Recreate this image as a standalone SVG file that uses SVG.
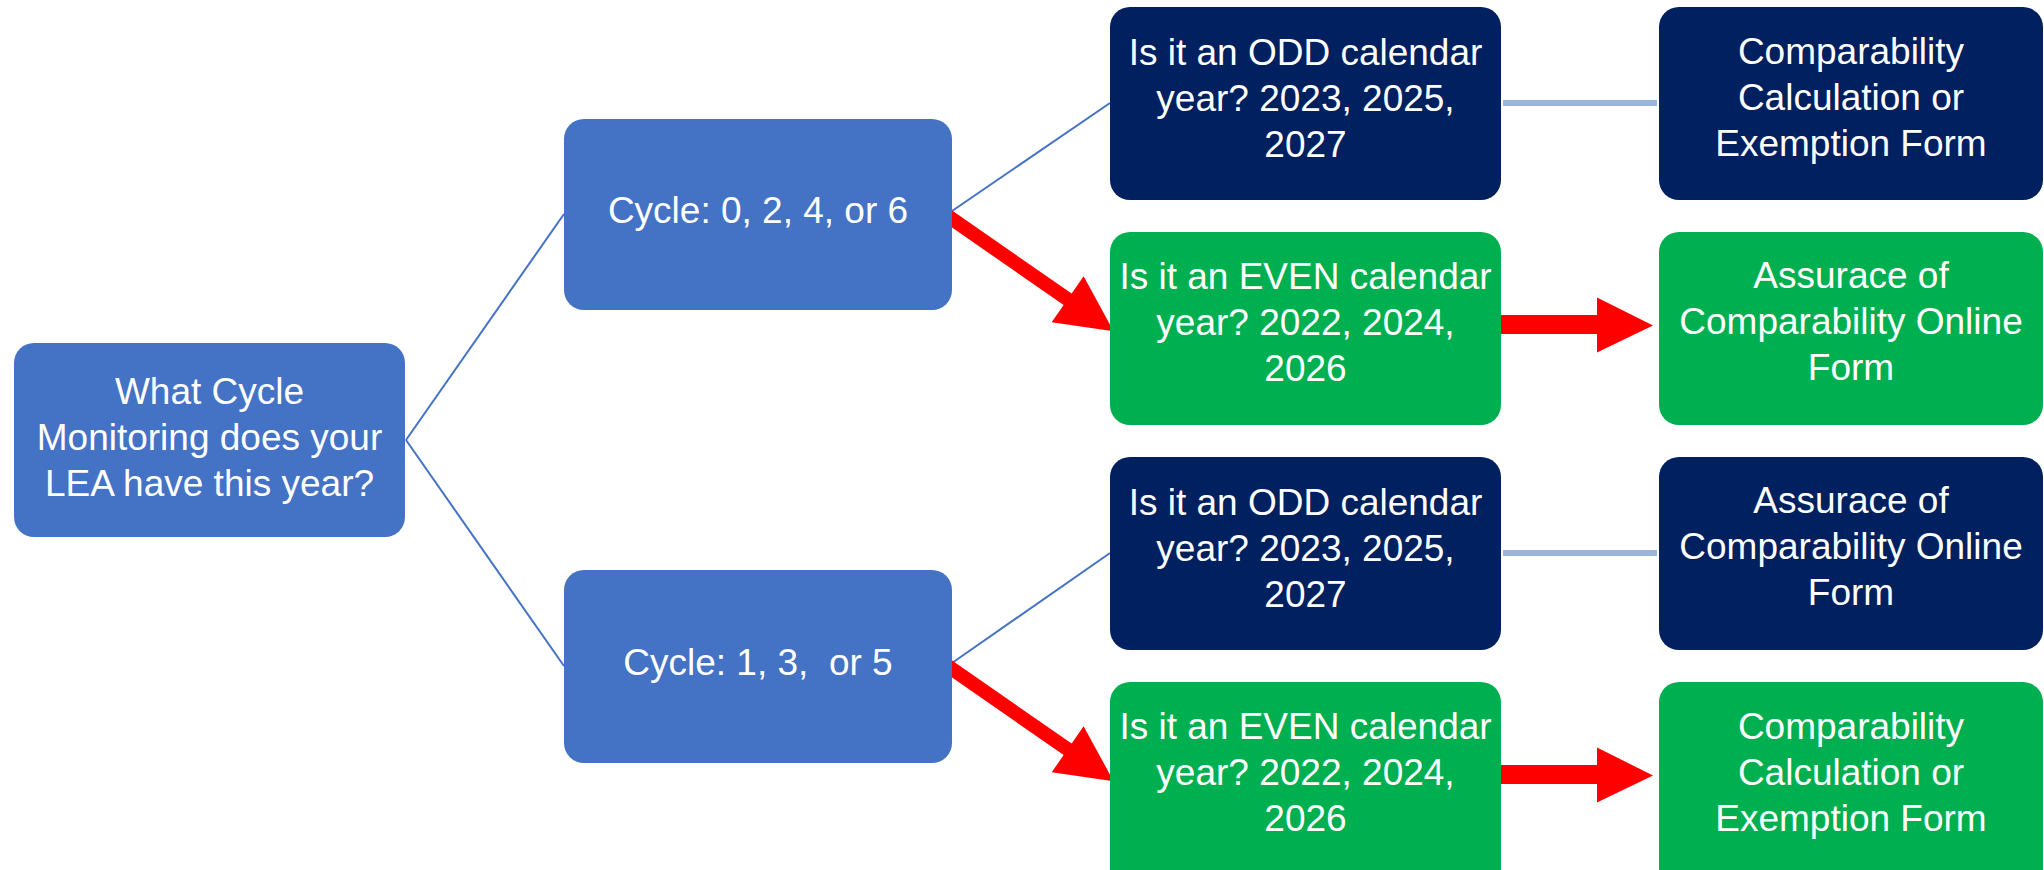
<svg xmlns="http://www.w3.org/2000/svg" xmlns:xlink="http://www.w3.org/1999/xlink" width="2044" height="870" viewBox="0 0 2044 870">
  <style>
    .blue { fill: #4472C4; }
    .navy { fill: #002060; }
    .green { fill: #00B050; }
    .t { font-family: "Liberation Sans", Arial, sans-serif; font-size: 37px; fill: #FFFFFF; text-anchor: middle; white-space: pre; }
    .thin { stroke: #4472C4; stroke-width: 2; fill: none; }
    .light { stroke: #9DB4DC; stroke-width: 6; fill: none; }
    .red { fill: #FF0000; }
  </style>
  <defs>
    <polygon id="diagArrow" points="0,-7 153,-7 153,-28 209,0 153,28 153,7 0,7"/>
    <polygon id="hArrow" points="0,-9.5 105,-9.5 105,-27 161,1 105,28 105,9.5 0,9.5"/>
  </defs>
  <rect width="2044" height="870" fill="#FFFFFF"/>

  <g id="connectors">
    <line class="thin" x1="406" y1="440" x2="564" y2="214"/>
    <line class="thin" x1="406" y1="440" x2="564" y2="666"/>
    <line class="thin" x1="952" y1="211" x2="1110" y2="103"/>
    <line class="thin" x1="952" y1="663" x2="1110" y2="553"/>
    <line class="light" x1="1503" y1="103" x2="1657" y2="103"/>
    <line class="light" x1="1503" y1="553" x2="1657" y2="553"/>
    <use xlink:href="#diagArrow" class="red" transform="translate(942,212) rotate(34.8)"/>
    <use xlink:href="#diagArrow" class="red" transform="translate(942,662) rotate(34.8)"/>
    <use xlink:href="#hArrow" class="red" transform="translate(1492,324.5)"/>
    <use xlink:href="#hArrow" class="red" transform="translate(1492,774.5)"/>
  </g>

  <g id="root">
    <rect class="blue" x="14" y="343" width="391" height="194" rx="20"/>
    <text class="t" x="209.5" y="404">What Cycle</text>
    <text class="t" x="209.5" y="450">Monitoring does your</text>
    <text class="t" x="209.5" y="496">LEA have this year?</text>
  </g>

  <g id="cycle-even">
    <rect class="blue" x="564" y="119" width="388" height="191" rx="20"/>
    <text class="t" x="758" y="223">Cycle: 0, 2, 4, or 6</text>
  </g>

  <g id="cycle-odd">
    <rect class="blue" x="564" y="570" width="388" height="193" rx="20"/>
    <text class="t" x="758" y="675">Cycle: 1, 3,  or 5</text>
  </g>

  <g id="odd-1">
    <rect class="navy" x="1110" y="7" width="391" height="193" rx="20"/>
    <text class="t" x="1305.5" y="65">Is it an ODD calendar</text>
    <text class="t" x="1305.5" y="111">year? 2023, 2025,</text>
    <text class="t" x="1305.5" y="157">2027</text>
  </g>

  <g id="even-1">
    <rect class="green" x="1110" y="232" width="391" height="193" rx="20"/>
    <text class="t" x="1305.5" y="289">Is it an EVEN calendar</text>
    <text class="t" x="1305.5" y="335">year? 2022, 2024,</text>
    <text class="t" x="1305.5" y="381">2026</text>
  </g>

  <g id="odd-2">
    <rect class="navy" x="1110" y="457" width="391" height="193" rx="20"/>
    <text class="t" x="1305.5" y="515">Is it an ODD calendar</text>
    <text class="t" x="1305.5" y="561">year? 2023, 2025,</text>
    <text class="t" x="1305.5" y="607">2027</text>
  </g>

  <g id="even-2">
    <rect class="green" x="1110" y="682" width="391" height="220" rx="20"/>
    <text class="t" x="1305.5" y="739">Is it an EVEN calendar</text>
    <text class="t" x="1305.5" y="785">year? 2022, 2024,</text>
    <text class="t" x="1305.5" y="831">2026</text>
  </g>

  <g id="result-1">
    <rect class="navy" x="1659" y="7" width="384" height="193" rx="20"/>
    <text class="t" x="1851" y="64">Comparability</text>
    <text class="t" x="1851" y="110">Calculation or</text>
    <text class="t" x="1851" y="156">Exemption Form</text>
  </g>

  <g id="result-2">
    <rect class="green" x="1659" y="232" width="384" height="193" rx="20"/>
    <text class="t" x="1851" y="288">Assurace of</text>
    <text class="t" x="1851" y="334">Comparability Online</text>
    <text class="t" x="1851" y="380">Form</text>
  </g>

  <g id="result-3">
    <rect class="navy" x="1659" y="457" width="384" height="193" rx="20"/>
    <text class="t" x="1851" y="513">Assurace of</text>
    <text class="t" x="1851" y="559">Comparability Online</text>
    <text class="t" x="1851" y="605">Form</text>
  </g>

  <g id="result-4">
    <rect class="green" x="1659" y="682" width="384" height="220" rx="20"/>
    <text class="t" x="1851" y="739">Comparability</text>
    <text class="t" x="1851" y="785">Calculation or</text>
    <text class="t" x="1851" y="831">Exemption Form</text>
  </g>
</svg>
